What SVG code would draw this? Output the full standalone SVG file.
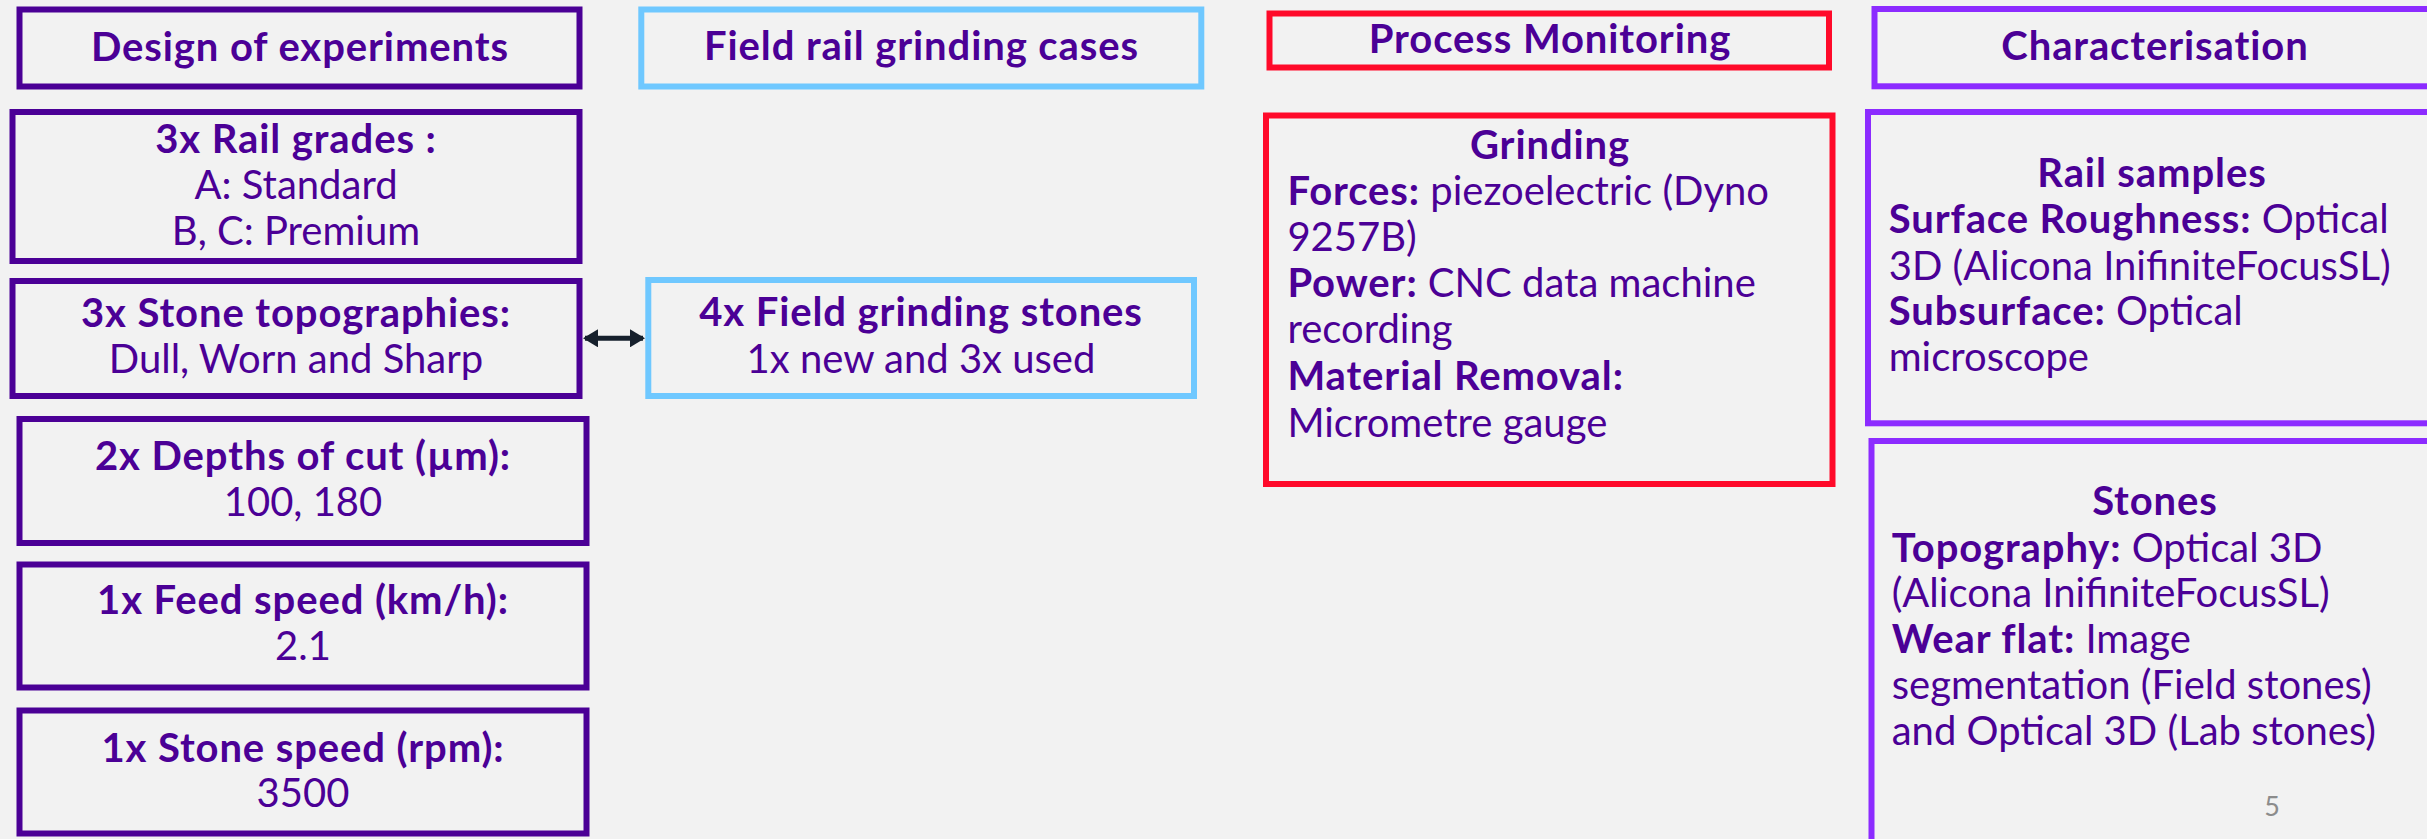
<svg xmlns="http://www.w3.org/2000/svg" width="2427" height="839" viewBox="0 0 2427 839">
<defs>
<style>
.bg{fill:#F2F2F2}
.box{fill:none;stroke-width:6}
.doe{stroke:#4B0096}
.fld{stroke:#6FC8FF}
.pm{stroke:#FF0A2A}
.ch{stroke:#8C2BFF}
text{font-family:Lato,"Liberation Sans",sans-serif;font-size:40px;fill:#4B0096}
.b{font-weight:bold;letter-spacing:0.9px}
.c{text-anchor:middle}
.pg{font-size:27px;fill:#8C8C8C}
</style>
<marker id="ah" viewBox="0 0 15 18" refX="13" refY="9" markerWidth="15" markerHeight="18" markerUnits="userSpaceOnUse" orient="auto-start-reverse">
<path d="M0,0 L15,9 L0,18 Z" fill="#16202C"/>
</marker>
</defs>
<rect class="bg" x="0" y="0" width="2427" height="839"/>

<g id="connectors">
<line x1="585" y1="338.3" x2="643" y2="338.3" stroke="#16202C" stroke-width="5" marker-start="url(#ah)" marker-end="url(#ah)"/>
</g>

<g id="design-of-experiments">
<rect class="box doe" x="19.5" y="9.5" width="560" height="77"/>
<text class="b c" x="300" y="60.7">Design of experiments</text>
</g>
<g id="rail-grades">
<rect class="box doe" x="12.5" y="112" width="567" height="149"/>
<text class="c" x="296"><tspan class="b" x="296" y="153">3x Rail grades :</tspan><tspan x="296" y="199">A: Standard</tspan><tspan x="296" y="245">B, C: Premium</tspan></text>
</g>
<g id="stone-topographies">
<rect class="box doe" x="12.5" y="281" width="567" height="115"/>
<text class="c" x="296"><tspan class="b" x="296" y="327">3x Stone topographies:</tspan><tspan x="296" y="373">Dull, Worn and Sharp</tspan></text>
</g>
<g id="depths-of-cut">
<rect class="box doe" x="19.5" y="419" width="567" height="124"/>
<text class="c" x="303"><tspan class="b" x="303" y="470">2x Depths of cut (µm):</tspan><tspan x="303" y="516">100, 180</tspan></text>
</g>
<g id="feed-speed">
<rect class="box doe" x="19.5" y="564.5" width="567" height="123"/>
<text class="c" x="303"><tspan class="b" x="303" y="614.3">1x Feed speed (km/h):</tspan><tspan x="303" y="660">2.1</tspan></text>
</g>
<g id="stone-speed">
<rect class="box doe" x="19.5" y="710.5" width="567" height="123"/>
<text class="c" x="303"><tspan class="b" x="303" y="761.7">1x Stone speed (rpm):</tspan><tspan x="303" y="807.3">3500</tspan></text>
</g>

<g id="field-rail-grinding-cases">
<rect class="box fld" x="641.3" y="9.5" width="560" height="77"/>
<text class="b c" x="921.5" y="60">Field rail grinding cases</text>
</g>
<g id="field-grinding-stones">
<rect class="box fld" x="648.3" y="280" width="545.7" height="116"/>
<text class="c" x="921"><tspan class="b" x="921" y="326">4x Field grinding stones</tspan><tspan x="921" y="372.7">1x new and 3x used</tspan></text>
</g>

<g id="process-monitoring">
<rect class="box pm" x="1269.5" y="13.5" width="559.5" height="54"/>
<text class="b c" x="1550" y="52.7">Process Monitoring</text>
</g>
<g id="grinding">
<rect class="box pm" x="1266" y="115.5" width="566.5" height="368.5"/>
<text class="b c" x="1550" y="159.3">Grinding</text>
<text x="1287.4" y="205"><tspan class="b">Forces:</tspan> piezoelectric (Dyno</text>
<text x="1287.4" y="250.7">9257B)</text>
<text x="1287.4" y="296.7"><tspan class="b">Power:</tspan> CNC data machine</text>
<text x="1287.4" y="343">recording</text>
<text class="b" x="1287.4" y="390">Material Removal:</text>
<text x="1287.4" y="436.7">Micrometre gauge</text>
</g>

<g id="characterisation">
<rect class="box ch" x="1874.5" y="9" width="600" height="77.3"/>
<text class="b c" x="2155" y="60">Characterisation</text>
</g>
<g id="rail-samples">
<rect class="box ch" x="1868" y="112" width="600" height="311.3"/>
<text class="b c" x="2152" y="187.3">Rail samples</text>
<text x="1888.7" y="233.3"><tspan class="b">Surface Roughness:</tspan> Optical</text>
<text x="1888.7" y="280">3D (Alicona InifiniteFocusSL)</text>
<text x="1888.7" y="325"><tspan class="b">Subsurface:</tspan> Optical</text>
<text x="1888.7" y="371">microscope</text>
</g>
<g id="stones">
<rect class="box ch" x="1871.5" y="441" width="600" height="450"/>
<text class="b c" x="2155" y="515">Stones</text>
<text x="1891.7" y="561.7"><tspan class="b">Topography:</tspan> Optical 3D</text>
<text x="1891.7" y="606.7">(Alicona InifiniteFocusSL)</text>
<text x="1891.7" y="653.3"><tspan class="b">Wear flat:</tspan> Image</text>
<text x="1891.7" y="699.3">segmentation (Field stones)</text>
<text x="1891.7" y="745">and Optical 3D (Lab stones)</text>
</g>

<text class="pg" x="2272" y="815.7" text-anchor="middle">5</text>
</svg>
